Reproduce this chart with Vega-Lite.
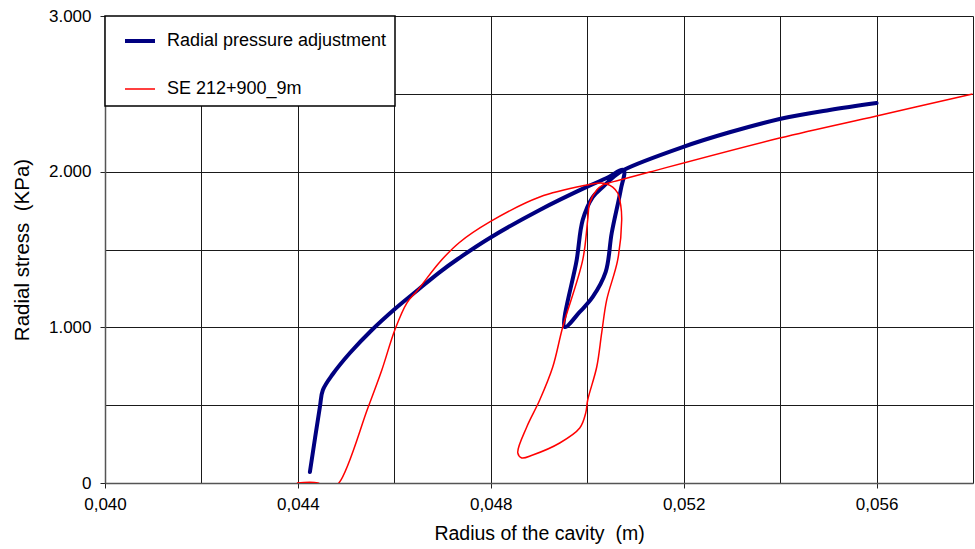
{
  "$schema": "https://vega.github.io/schema/vega-lite/v6.json",
  "width": 868,
  "height": 467,
  "autosize": "none",
  "padding": {"left": 105, "top": 16, "right": 2, "bottom": 66},
  "background": "white",
  "config": {
    "view": {"stroke": null},
    "font": "Liberation Sans",
    "axis": {
      "labelFont": "Liberation Sans",
      "titleFont": "Liberation Sans",
      "labelColor": "#000",
      "titleColor": "#000",
      "titleFontWeight": "normal",
      "labelFontSize": 17,
      "titleFontSize": 19.5,
      "gridColor": "#1a1a1a",
      "gridWidth": 1,
      "gridOpacity": 1,
      "domainColor": "#555",
      "domainWidth": 1.5,
      "tickColor": "#222",
      "tickSize": 5
    },
    "legend": {
      "orient": "none",
      "legendX": 0,
      "legendY": 0,
      "fillColor": "#ffffff",
      "strokeColor": "#000000",
      "strokeWidth": 1.5,
      "padding": 8,
      "symbolType": "stroke",
      "symbolSize": 900,
      "symbolOffset": 10,
      "labelFont": "Liberation Sans",
      "labelFontSize": 18,
      "labelColor": "#000",
      "labelOffset": 10,
      "rowPadding": 23,
      "labelLimit": 400
    }
  },
  "data": {
    "values": [
      {"series": "Radial pressure adjustment", "i": 1, "r": 0.044249, "s": 71},
      {"series": "Radial pressure adjustment", "i": 2, "r": 0.044456, "s": 488},
      {"series": "Radial pressure adjustment", "i": 3, "r": 0.044518, "s": 597},
      {"series": "Radial pressure adjustment", "i": 4, "r": 0.044725, "s": 700},
      {"series": "Radial pressure adjustment", "i": 5, "r": 0.045078, "s": 835},
      {"series": "Radial pressure adjustment", "i": 6, "r": 0.045534, "s": 983},
      {"series": "Radial pressure adjustment", "i": 7, "r": 0.046010, "s": 1118},
      {"series": "Radial pressure adjustment", "i": 8, "r": 0.046487, "s": 1240},
      {"series": "Radial pressure adjustment", "i": 9, "r": 0.046943, "s": 1355},
      {"series": "Radial pressure adjustment", "i": 10, "r": 0.047316, "s": 1439},
      {"series": "Radial pressure adjustment", "i": 11, "r": 0.047979, "s": 1574},
      {"series": "Radial pressure adjustment", "i": 12, "r": 0.049015, "s": 1754},
      {"series": "Radial pressure adjustment", "i": 13, "r": 0.049990, "s": 1902},
      {"series": "Radial pressure adjustment", "i": 14, "r": 0.050404, "s": 1959},
      {"series": "Radial pressure adjustment", "i": 15, "r": 0.050756, "s": 2011},
      {"series": "Radial pressure adjustment", "i": 16, "r": 0.050694, "s": 1882},
      {"series": "Radial pressure adjustment", "i": 17, "r": 0.050508, "s": 1606},
      {"series": "Radial pressure adjustment", "i": 18, "r": 0.050383, "s": 1356},
      {"series": "Radial pressure adjustment", "i": 19, "r": 0.050114, "s": 1195},
      {"series": "Radial pressure adjustment", "i": 20, "r": 0.049845, "s": 1099},
      {"series": "Radial pressure adjustment", "i": 21, "r": 0.049534, "s": 1002},
      {"series": "Radial pressure adjustment", "i": 22, "r": 0.049782, "s": 1433},
      {"series": "Radial pressure adjustment", "i": 23, "r": 0.049907, "s": 1690},
      {"series": "Radial pressure adjustment", "i": 24, "r": 0.050114, "s": 1837},
      {"series": "Radial pressure adjustment", "i": 25, "r": 0.050321, "s": 1901},
      {"series": "Radial pressure adjustment", "i": 26, "r": 0.050570, "s": 1972},
      {"series": "Radial pressure adjustment", "i": 27, "r": 0.050756, "s": 2011},
      {"series": "Radial pressure adjustment", "i": 28, "r": 0.051979, "s": 2158},
      {"series": "Radial pressure adjustment", "i": 29, "r": 0.052953, "s": 2253},
      {"series": "Radial pressure adjustment", "i": 30, "r": 0.053990, "s": 2338},
      {"series": "Radial pressure adjustment", "i": 31, "r": 0.055026, "s": 2396},
      {"series": "Radial pressure adjustment", "i": 32, "r": 0.056000, "s": 2441},
      {"series": "SE 212+900_9m", "i": 1, "r": 0.043979, "s": 0},
      {"series": "SE 212+900_9m", "i": 2, "r": 0.044415, "s": 0},
      {"series": "SE 212+900_9m", "i": 3, "r": 0.044630, "s": -40},
      {"series": "SE 212+900_9m", "i": 4, "r": 0.044850, "s": 0},
      {"series": "SE 212+900_9m", "i": 5, "r": 0.045451, "s": 482},
      {"series": "SE 212+900_9m", "i": 6, "r": 0.045741, "s": 726},
      {"series": "SE 212+900_9m", "i": 7, "r": 0.046010, "s": 983},
      {"series": "SE 212+900_9m", "i": 8, "r": 0.046259, "s": 1156},
      {"series": "SE 212+900_9m", "i": 9, "r": 0.046487, "s": 1240},
      {"series": "SE 212+900_9m", "i": 10, "r": 0.046943, "s": 1420},
      {"series": "SE 212+900_9m", "i": 11, "r": 0.047337, "s": 1542},
      {"series": "SE 212+900_9m", "i": 12, "r": 0.047979, "s": 1677},
      {"series": "SE 212+900_9m", "i": 13, "r": 0.049015, "s": 1837},
      {"series": "SE 212+900_9m", "i": 14, "r": 0.049990, "s": 1914},
      {"series": "SE 212+900_9m", "i": 15, "r": 0.050259, "s": 1927},
      {"series": "SE 212+900_9m", "i": 16, "r": 0.050404, "s": 1921},
      {"series": "SE 212+900_9m", "i": 17, "r": 0.050528, "s": 1901},
      {"series": "SE 212+900_9m", "i": 18, "r": 0.050632, "s": 1863},
      {"series": "SE 212+900_9m", "i": 19, "r": 0.050694, "s": 1786},
      {"series": "SE 212+900_9m", "i": 20, "r": 0.050715, "s": 1690},
      {"series": "SE 212+900_9m", "i": 21, "r": 0.050632, "s": 1433},
      {"series": "SE 212+900_9m", "i": 22, "r": 0.050404, "s": 1176},
      {"series": "SE 212+900_9m", "i": 23, "r": 0.050300, "s": 964},
      {"series": "SE 212+900_9m", "i": 24, "r": 0.050197, "s": 745},
      {"series": "SE 212+900_9m", "i": 25, "r": 0.050010, "s": 533},
      {"series": "SE 212+900_9m", "i": 26, "r": 0.049969, "s": 450},
      {"series": "SE 212+900_9m", "i": 27, "r": 0.049845, "s": 353},
      {"series": "SE 212+900_9m", "i": 28, "r": 0.049430, "s": 257},
      {"series": "SE 212+900_9m", "i": 29, "r": 0.048870, "s": 180},
      {"series": "SE 212+900_9m", "i": 30, "r": 0.048642, "s": 161},
      {"series": "SE 212+900_9m", "i": 31, "r": 0.048560, "s": 193},
      {"series": "SE 212+900_9m", "i": 32, "r": 0.048746, "s": 360},
      {"series": "SE 212+900_9m", "i": 33, "r": 0.049015, "s": 533},
      {"series": "SE 212+900_9m", "i": 34, "r": 0.049285, "s": 745},
      {"series": "SE 212+900_9m", "i": 35, "r": 0.049492, "s": 1002},
      {"series": "SE 212+900_9m", "i": 36, "r": 0.049907, "s": 1433},
      {"series": "SE 212+900_9m", "i": 37, "r": 0.050010, "s": 1690},
      {"series": "SE 212+900_9m", "i": 38, "r": 0.050052, "s": 1799},
      {"series": "SE 212+900_9m", "i": 39, "r": 0.050197, "s": 1882},
      {"series": "SE 212+900_9m", "i": 40, "r": 0.050321, "s": 1914},
      {"series": "SE 212+900_9m", "i": 41, "r": 0.050674, "s": 1946},
      {"series": "SE 212+900_9m", "i": 42, "r": 0.051295, "s": 1998},
      {"series": "SE 212+900_9m", "i": 43, "r": 0.053990, "s": 2216},
      {"series": "SE 212+900_9m", "i": 44, "r": 0.056000, "s": 2358},
      {"series": "SE 212+900_9m", "i": 45, "r": 0.057990, "s": 2499}
    ]
  },
  "encoding": {
    "x": {
      "field": "r",
      "type": "quantitative",
      "title": "Radius of the cavity \u00a0(m)",
      "scale": {"domain": [0.04, 0.058], "nice": false, "zero": false},
      "axis": {
        "values": [0.04, 0.042, 0.044, 0.046, 0.048, 0.05, 0.052, 0.054, 0.056, 0.058],
        "labelExpr": "round(datum.value*1000) % 4 == 0 ? replace(format(datum.value, '.3f'), '.', ',') : ''",
        "tickOpacity": {"condition": {"test": "round(datum.value*1000) % 4 == 0", "value": 1}, "value": 0},
        "labelPadding": 8,
        "titlePadding": 12,
        "labelFlush": false,
        "labelOverlap": false
      }
    },
    "y": {
      "field": "s",
      "type": "quantitative",
      "title": "Radial stress \u00a0(KPa)",
      "scale": {"domain": [0, 3000], "nice": false},
      "axis": {
        "values": [0, 500, 1000, 1500, 2000, 2500, 3000],
        "labelExpr": "datum.value % 1000 == 0 ? (datum.value == 0 ? '0' : replace(format(datum.value, ','), ',', '.')) : ''",
        "tickOpacity": {"condition": {"test": "datum.value % 1000 == 0", "value": 1}, "value": 0},
        "labelPadding": 9,
        "titlePadding": 16,
        "titleFontSize": 20.5,
        "labelFlush": false,
        "labelOverlap": false
      }
    },
    "order": {"field": "i", "type": "quantitative"},
    "color": {
      "field": "series",
      "type": "nominal",
      "scale": {"domain": ["Radial pressure adjustment", "SE 212+900_9m"], "range": ["#000080", "#ff0000"]},
      "legend": {"title": null}
    },
    "strokeWidth": {
      "field": "series",
      "type": "nominal",
      "scale": {"domain": ["Radial pressure adjustment", "SE 212+900_9m"], "range": [4, 1.5]},
      "legend": {"title": null}
    }
  },
  "layer": [
    {
      "transform": [{"filter": "datum.series == 'Radial pressure adjustment'"}],
      "mark": {"type": "line", "clip": true, "interpolate": "catmull-rom", "strokeJoin": "round", "strokeCap": "round"}
    },
    {
      "transform": [{"filter": "datum.series == 'SE 212+900_9m'"}],
      "mark": {"type": "line", "clip": true, "interpolate": "catmull-rom", "strokeJoin": "round"}
    }
  ]
}
